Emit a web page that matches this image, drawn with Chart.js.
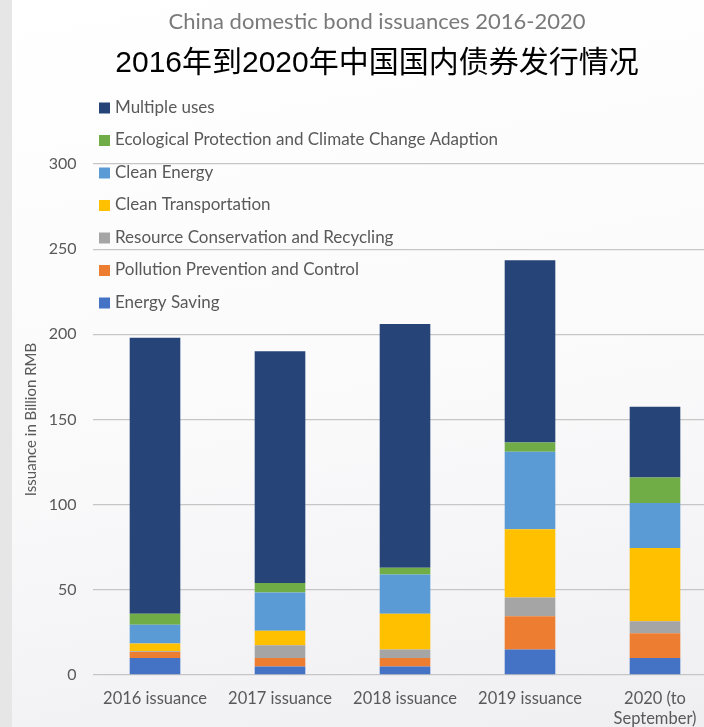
<!DOCTYPE html>
<html>
<head>
<meta charset="utf-8">
<script src="https://cdn.jsdelivr.net/npm/chart.js@4.4.0/dist/chart.umd.min.js"></script>
<style>
  html, body { margin: 0; padding: 0; overflow: hidden; }
  body {
    width: 704px; height: 727px;
    background: linear-gradient(to right, #e6e6e6 0, #e6e6e6 12px, rgba(0,0,0,0) 12px),
                linear-gradient(170deg, #ffffff 0%, #fafafb 55%, #efeff2 100%);
  }
  #wrap { position: absolute; left: 0; top: 0; width: 730px; height: 740px; }
</style>
</head>
<body>
<div id="wrap"><canvas id="mycanvas" width="730" height="740"></canvas></div>
<script>
var categories = ["2016 issuance", "2017 issuance", "2018 issuance", "2019 issuance", ["2020 (to", "September)"]];

// bottom of the stack first
var energySaving    = [10, 5, 5, 15, 10];
var pollution       = [3.5, 5, 5, 19.5, 14.5];
var resource        = [0.5, 7.5, 5, 11, 7];
var transportation  = [4.5, 8.5, 21, 40, 43];
var cleanEnergy     = [11, 22.5, 23, 45.5, 26.5];
var ecological      = [6.5, 5.5, 4, 5.5, 15];
var multipleUses    = [162, 136, 143, 107, 41.5];

var yTicks = [0, 50, 100, 150, 200, 250, 300];

var grey = '#595959';

// legend drawn as a vertical list, top of stack first
var stackLegend = {
  id: 'stackLegend',
  afterDraw: function(chart) {
    var ctx = chart.ctx;
    var ds = chart.data.datasets;
    ctx.save();
    ctx.font = '17px Lato';
    ctx.textBaseline = 'middle';
    ctx.textAlign = 'left';
    var row = 0;
    for (var i = ds.length - 1; i >= 0; i--) {
      var y = 107.5 + row * 32.5;
      ctx.fillStyle = ds[i].backgroundColor;
      ctx.fillRect(99, y - 5, 11, 11);
      ctx.fillStyle = grey;
      ctx.fillText(ds[i].label, 115, y);
      row++;
    }
    ctx.restore();
  }
};

var chartdata = {
  labels: categories,
  datasets: [
    { label: 'Energy Saving', backgroundColor: '#4472C4', data: energySaving },
    { label: 'Pollution Prevention and Control', backgroundColor: '#ED7D31', data: pollution },
    { label: 'Resource Conservation and Recycling', backgroundColor: '#A5A5A5', data: resource },
    { label: 'Clean Transportation', backgroundColor: '#FFC000', data: transportation },
    { label: 'Clean Energy', backgroundColor: '#5B9BD5', data: cleanEnergy },
    { label: 'Ecological Protection and Climate Change Adaption', backgroundColor: '#70AD47', data: ecological },
    { label: 'Multiple uses', backgroundColor: '#264478', data: multipleUses }
  ]
};

var ctx = document.getElementById('mycanvas');

var barGraph = new Chart(ctx, {
  type: 'bar',
  data: chartdata,
  plugins: [stackLegend],
  options: {
    responsive: false,
    animation: false,
    layout: { padding: { left: 36.5, right: 12.5, top: 0, bottom: 0 } },
    datasets: { bar: { categoryPercentage: 1, barPercentage: 0.405, borderWidth: 0 } },
    plugins: {
      legend: { display: false },
      tooltip: { enabled: false },
      title: {
        display: true,
        text: 'China domestic bond issuances 2016-2020',
        color: '#7a7a7a',
        font: { family: 'Lato', size: 22, weight: 'normal', lineHeight: 1.2 },
        padding: { top: 9, bottom: 0 }
      },
      subtitle: {
        display: true,
        text: '2016年到2020年中国国内债券发行情况',
        color: '#000000',
        font: { family: "'Liberation Sans', 'Noto Sans CJK SC'", size: 30, lineHeight: 1.2 },
        padding: { top: 10, bottom: 82.6 }
      }
    },
    scales: {
      x: {
        stacked: true,
        grid: { display: false },
        border: { display: false },
        ticks: { color: grey, font: { family: 'Lato', size: 16.5 }, padding: 6, maxRotation: 0, autoSkip: false },
        afterFit: function(scale) { scale.height = 65; }
      },
      y: {
        stacked: true,
        min: 0,
        max: 300,
        afterBuildTicks: function(scale) {
          scale.ticks = yTicks.map(function(v) { return { value: v }; });
        },
        grid: { color: '#c6c6c6', lineWidth: 1.3, drawTicks: false },
        border: { display: false },
        ticks: { color: grey, font: { family: 'Lato', size: 16 }, padding: 16 },
        title: {
          display: true,
          text: 'Issuance in Billion RMB',
          color: grey,
          font: { family: 'Lato', size: 15 },
          padding: { top: -14.5, bottom: 0 }
        },
        afterFit: function(scale) { scale.width = 56; }
      }
    }
  }
});
</script>
</body>
</html>
